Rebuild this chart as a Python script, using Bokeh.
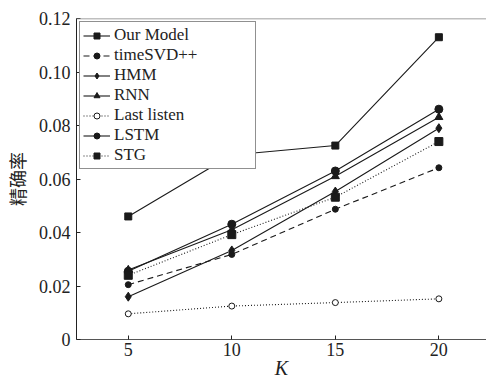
from bokeh.plotting import figure
from bokeh.models import Range1d, Span, Legend, LegendItem, FixedTicker
from bokeh.embed import file_html
from bokeh.resources import INLINE

K = [5, 10, 15, 20]
our_model = [0.046, 0.069, 0.0725, 0.113]
timesvd = [0.0205, 0.0318, 0.0487, 0.0642]
hmm = [0.016, 0.0333, 0.0553, 0.079]
rnn = [0.026, 0.041, 0.061, 0.0831]
last_listen = [0.0096, 0.0125, 0.0138, 0.0152]
lstm = [0.0255, 0.0431, 0.063, 0.0861]
stg = [0.024, 0.0392, 0.0532, 0.074]

y_ticks = [0, 0.02, 0.04, 0.06, 0.08, 0.10, 0.12]
y_tick_labels = ["0", "0.02", "0.04", "0.06", "0.08", "0.10", "0.12"]
x_ticks = [5, 10, 15, 20]

FONT = "Liberation Serif"

p = figure(width=486, height=381, output_backend="svg", toolbar_location=None,
           x_range=Range1d(2.5, 22.3), y_range=Range1d(0, 0.12),
           min_border_left=71, min_border_right=0, min_border_top=18, min_border_bottom=30)
p.outline_line_color = None
p.grid.visible = False
p.background_fill_color = "white"

p.xaxis.ticker = FixedTicker(ticks=x_ticks)
p.yaxis.ticker = FixedTicker(ticks=y_ticks)
p.yaxis.major_label_overrides = {t: l for t, l in zip(y_ticks, y_tick_labels)}
for ax in (p.xaxis, p.yaxis):
    ax.major_tick_in = 4
    ax.major_tick_out = 0
    ax.minor_tick_line_color = None
    ax.major_label_text_font = FONT
    ax.major_label_text_font_size = "18px"
    ax.major_label_text_color = "#222222"
    ax.axis_line_color = "#222222"
    ax.major_tick_line_color = "#222222"
p.xaxis.major_label_standoff = 3
p.yaxis.major_label_standoff = 6
p.xaxis.axis_line_color = "#555555"

p.xaxis.axis_label = "K"
p.xaxis.axis_label_text_font = FONT
p.xaxis.axis_label_text_font_style = "italic"
p.xaxis.axis_label_text_font_size = "20px"
p.xaxis.axis_label_text_color = "#222222"
p.xaxis.axis_label_standoff = -2
p.yaxis.axis_label = "精确率"
p.yaxis.axis_label_text_font = "Noto Sans CJK SC"
p.yaxis.axis_label_text_font_style = "normal"
p.yaxis.axis_label_text_font_size = "18px"
p.yaxis.axis_label_text_color = "#222222"
p.yaxis.axis_label_standoff = 6

p.add_layout(Span(location=0.12, dimension="width", line_color="#808080", line_width=1.5))

c = "#1a1a1a"
items = []

def series(name, ys, dash, marker, size, fill=c):
    r1 = p.line(K, ys, line_color=c, line_width=1.1, line_dash=dash)
    r2 = p.scatter(K, ys, marker=marker, size=size, fill_color=fill, line_color=c, line_width=1)
    items.append(LegendItem(label=name, renderers=[r1, r2]))

series("Our Model", our_model, "solid", "square", 7)
series("timeSVD++", timesvd, "6 4", "circle", 6)
series("HMM", hmm, "solid", "diamond", 9)
series("RNN", rnn, "solid", "triangle", 8)
series("Last listen", last_listen, "1 2", "circle", 6, fill="white")
series("LSTM", lstm, "solid", "circle", 8)
series("STG", stg, "1 2", "square", 8)

legend = Legend(items=items, location="top_left")
legend.label_text_font = FONT
legend.label_text_font_size = "17px"
legend.label_text_color = "#222222"
legend.label_height = 15
legend.label_width = 138
legend.label_standoff = 4
legend.glyph_width = 27
legend.glyph_height = 15
legend.spacing = 0
legend.padding = 3
legend.margin = 3
legend.border_line_color = "#222222"
legend.border_line_width = 1.2
legend.background_fill_alpha = 1
p.add_layout(legend)

open("out.html", "w").write(file_html(p, INLINE))
